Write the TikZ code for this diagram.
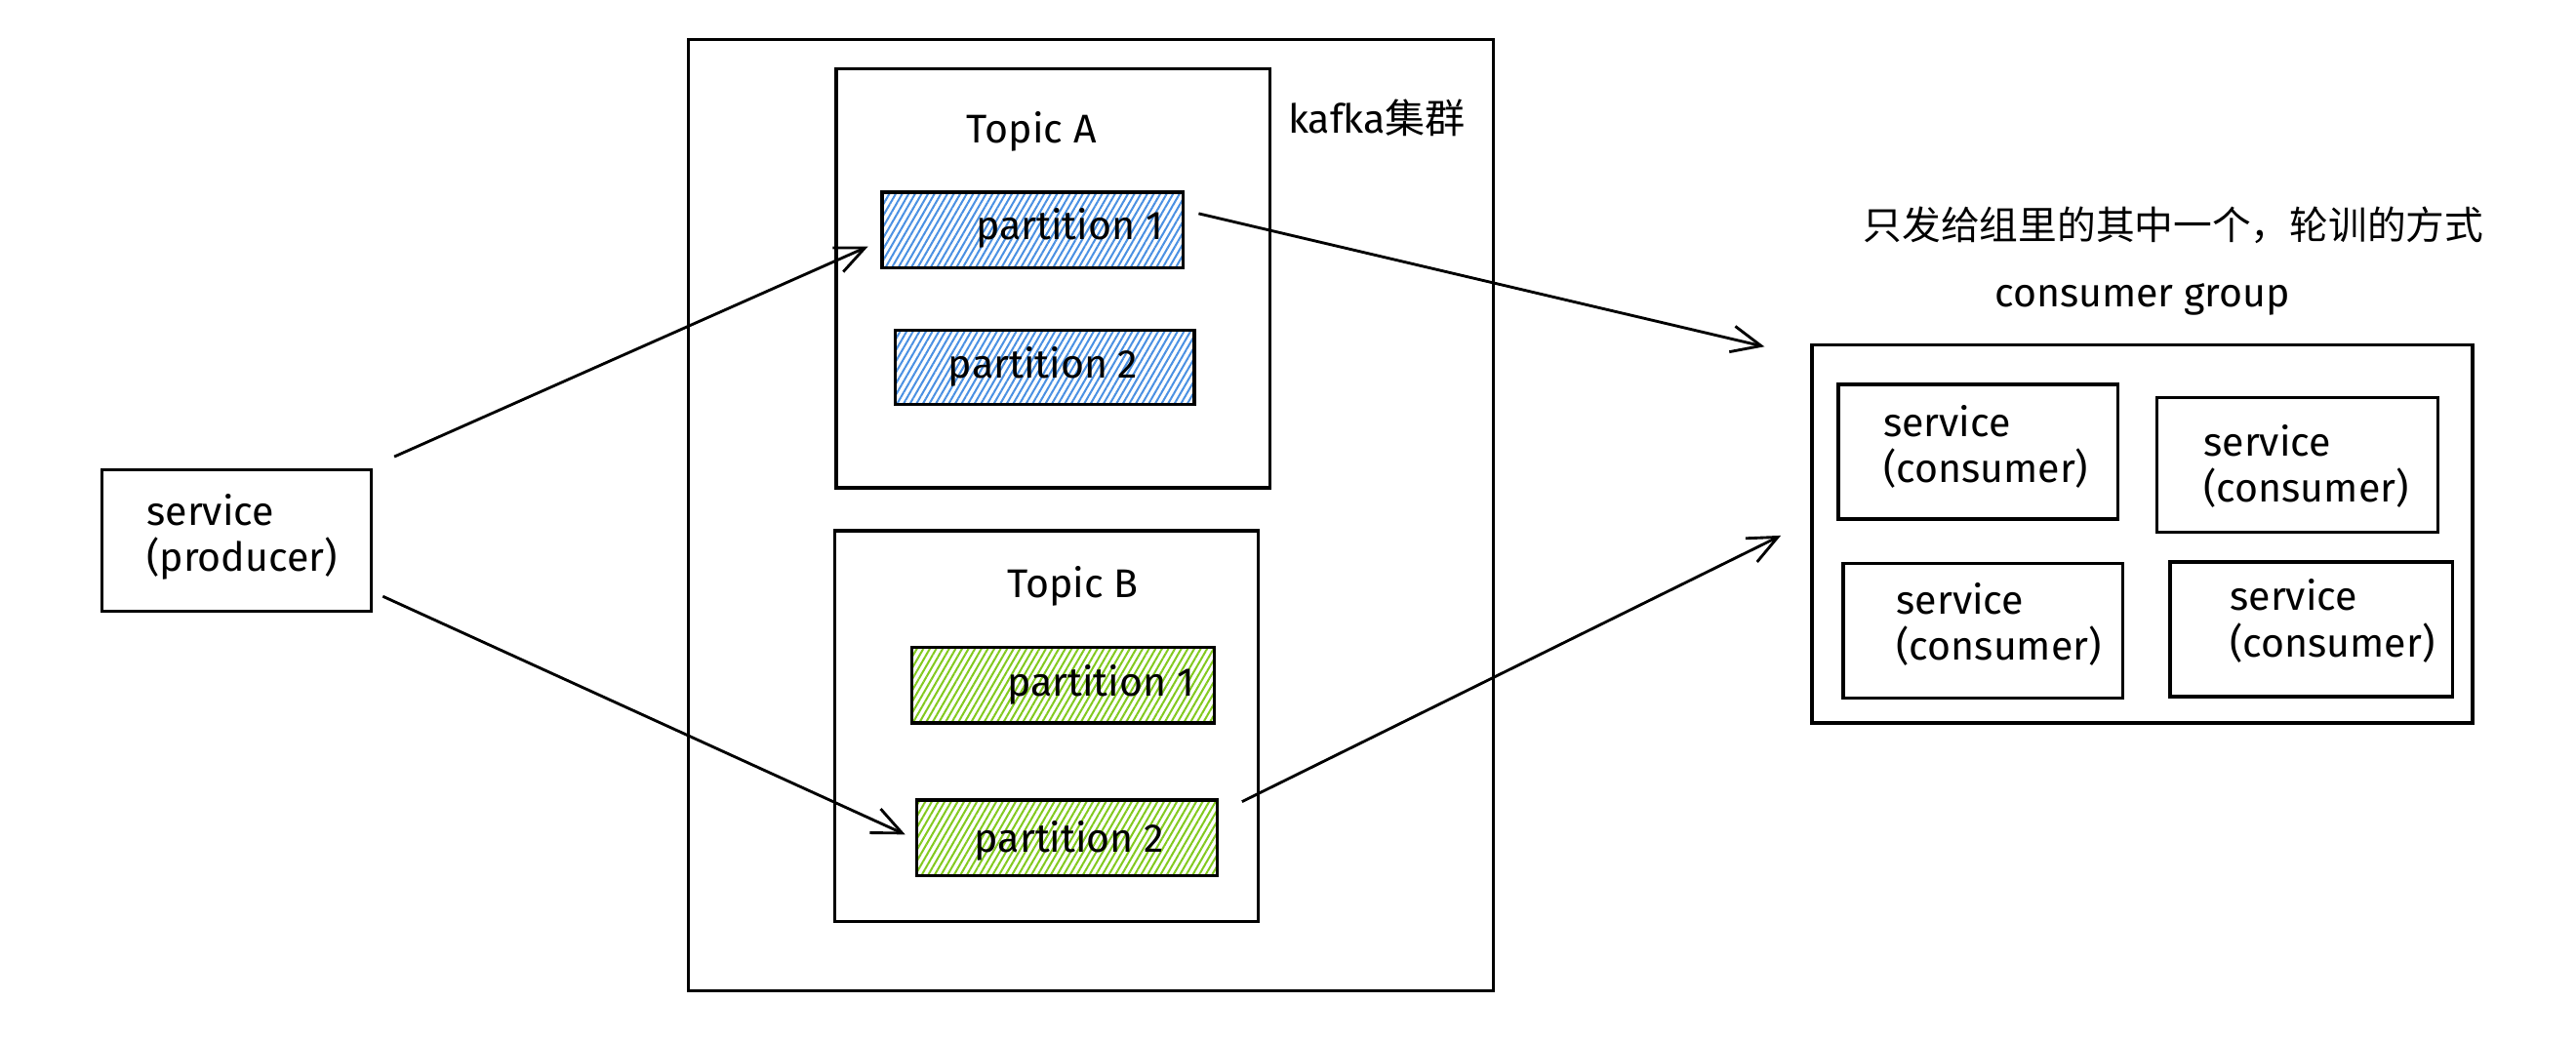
\documentclass[tikz,border=0pt]{standalone}
\usepackage{fontspec}
\setmainfont{Fira Sans}
\newfontfamily\cjk{Noto Sans CJK SC}
\usetikzlibrary{arrows.meta,patterns.meta,calc}
\definecolor{hblue}{HTML}{4A90E2}
\definecolor{hgreen}{HTML}{82C91E}
\begin{document}
\begin{tikzpicture}[x=0.5pt,y=-0.5pt,
  box/.style={draw,line width=1pt,inner sep=0pt,anchor=center},
  partblue/.style={box,pattern={Lines[angle=60,distance=1.7pt,line width=0.6pt]},pattern color=hblue},
  partgreen/.style={box,pattern={Lines[angle=60,distance=1.7pt,line width=0.6pt]},pattern color=hgreen},
  txt/.style={inner sep=0pt,font=\fontsize{12.2}{14}\selectfont},
  ltxt/.style={txt,anchor=west,align=left},
  arr/.style={line width=0.85pt,-{Straight Barb[length=9pt,width=8pt]}}
]
\useasboundingbox (0,0) rectangle (1568,634);
\fill[white] (0,0) rectangle (1568,634);

% producer
\node[box,minimum width=82pt,minimum height=43pt] (prod) at (144,329) {};
\node[ltxt] (prodt) at (89,327) {service\\(producer)};

% kafka cluster
\node[box,minimum width=245pt,minimum height=289.5pt] (kafka) at (664,313.5) {};
\node[txt] (kafkat) at (838,72) {kafka{\cjk 集群}};

% topic A
\node[box,minimum width=132pt,minimum height=127.5pt] (topa) at (641,169.5) {};
\node[txt] (topat) at (628,80) {Topic A};
\node[partblue,minimum width=91.5pt,minimum height=23pt] (pa1) at (628.5,140) {};
\node[txt] (pa1t) at (651,139) {partition 1};
\node[partblue,minimum width=91pt,minimum height=22.5pt] (pa2) at (636,223.5) {};
\node[txt] (pa2t) at (635,223) {partition 2};

% topic B
\node[box,minimum width=129pt,minimum height=119pt] (topb) at (637,442) {};
\node[txt] (topbt) at (653,357) {Topic B};
\node[partgreen,minimum width=92pt,minimum height=23pt] (pb1) at (647,417) {};
\node[txt] (pb1t) at (670,417) {partition 1};
\node[partgreen,minimum width=91.5pt,minimum height=23pt] (pb2) at (649.5,510) {};
\node[txt] (pb2t) at (651,512) {partition 2};

% consumer group
\node[txt,font=\cjk\fontsize{11.8}{14}\selectfont] (note) at (1323,137) {只发给组里的其中一个，轮训的方式};
\node[txt] (cgt) at (1304,182) {consumer group};
\node[box,minimum width=201pt,minimum height=115pt] (cg) at (1304,325) {};
\node[box,minimum width=85pt,minimum height=41pt] (c1) at (1204,275) {};
\node[ltxt] (c1t) at (1146,272) {service\\(consumer)};
\node[box,minimum width=85.5pt,minimum height=41pt] (c2) at (1398.5,283) {};
\node[ltxt] (c2t) at (1341,284) {service\\(consumer)};
\node[box,minimum width=85pt,minimum height=41pt] (c3) at (1207,384) {};
\node[ltxt] (c3t) at (1154,380) {service\\(consumer)};
\node[box,minimum width=86pt,minimum height=41pt] (c4) at (1407,383) {};
\node[ltxt] (c4t) at (1357,378) {service\\(consumer)};

% arrows
\draw[arr] ($(prod.north east)+(13,-7)$) -- ($(pa1.west)+(-8,10)$);
\draw[arr] ($(prod.south east)+(6,-10)$) -- ($(pb2.west)+(-6,-2)$);
\draw[arr] ($(pa1.east)+(9,-10)$) -- ($(cg.north west)+(-28,2)$);
\draw[arr] ($(pb2.north east)+(14,2)$) -- ($(cg.west)+(-18,1)$);
\end{tikzpicture}
\end{document}
